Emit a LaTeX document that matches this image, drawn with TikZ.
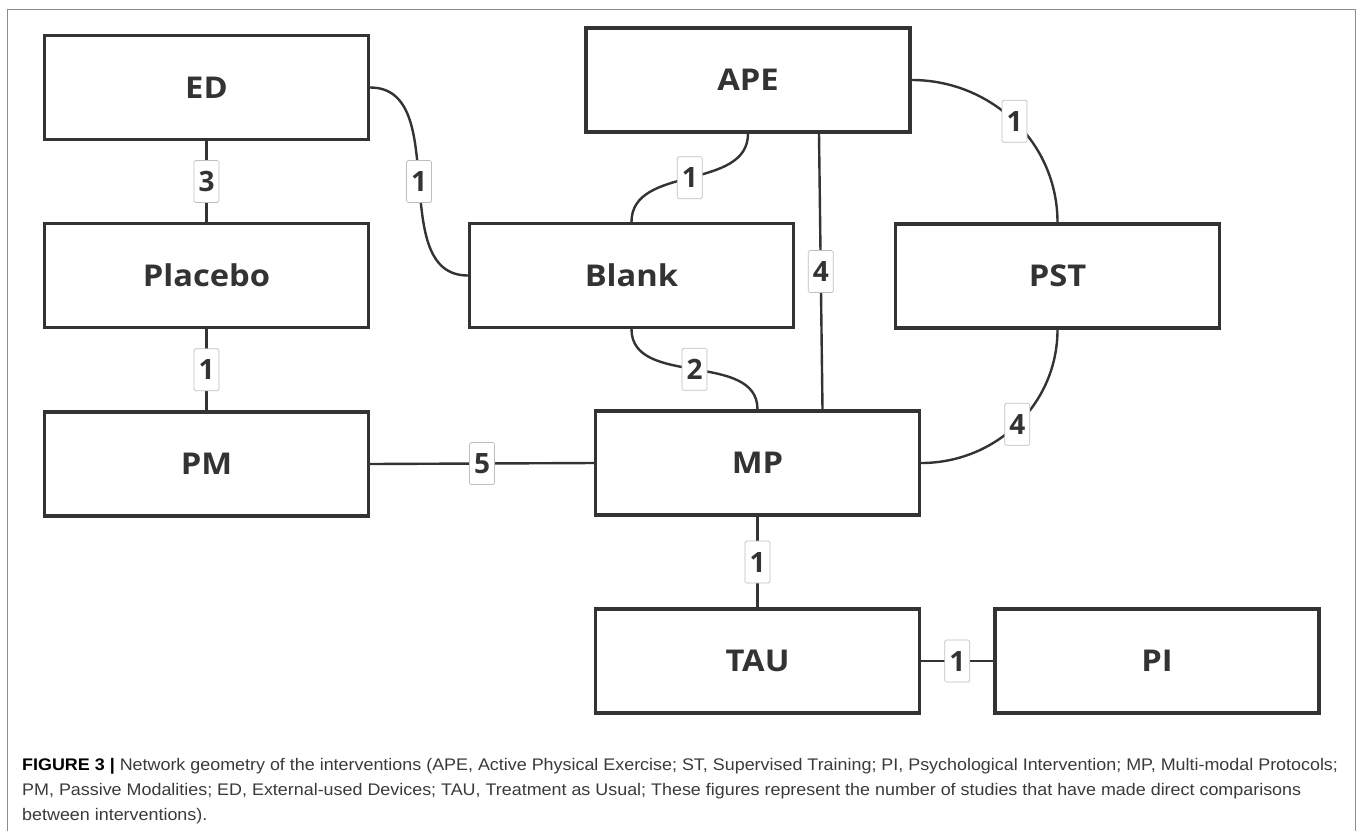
\documentclass[tikz,border=0pt]{standalone}
\usepackage{fontspec}
\newfontfamily\boxfont{Open Sans}[FakeStretch=1.09]
\newfontfamily\numfont{Open Sans}
\newfontfamily\capfont{Liberation Sans}[FakeStretch=1.066]
\definecolor{ink}{HTML}{333333}
\definecolor{capink}{HTML}{3A3A3A}
\begin{document}
\begin{tikzpicture}[x=1pt,y=1pt,
  box/.style={draw=ink,line width=3.3pt,fill=white,minimum width=324pt,minimum height=104pt,
    inner sep=0pt,font=\boxfont\bfseries\fontsize{30}{33}\selectfont,text=ink},
  link/.style={draw=ink,line width=2.4pt},
  num/.style={draw=black!25,line width=0.7pt,fill=white,rounded corners=1.5pt,inner sep=0pt,
    minimum width=25pt,minimum height=42pt,font=\numfont\bfseries\fontsize{28}{30}\selectfont,text=ink},
  captext/.style={anchor=base west,inner sep=0pt,text=capink,font=\capfont\fontsize{16.8}{20}\selectfont}]
\useasboundingbox (0,0) rectangle (1358,-831);
\draw[black!45,line width=1pt] (7.6,-831) -- (7.6,-9) -- (1355,-9) -- (1355,-831);
% boxes
\node[box] (ED) at (206.5,-87.5) {ED};
\node[box] (Placebo) at (206.5,-275.5) {Placebo};
\node[box] (PM) at (206.5,-464) {PM};
\node[box] (APE) at (748,-80) {APE};
\node[box] (Blank) at (631.5,-275.5) {Blank};
\node[box] (PST) at (1057.5,-276) {PST};
\node[box] (MP) at (757.5,-463) {MP};
\node[box] (TAU) at (757.5,-661) {TAU};
\node[box] (PI) at (1157,-661) {PI};
% connectors
\draw[link] (ED.south) -- node[num]{3} (Placebo.north);
\draw[link] (Placebo.south) -- node[num]{1} (PM.north);
\draw[link] (ED.east) to[out=0,in=180] node[num]{1} (Blank.west);
\draw[link] (APE.south) to[out=-90,in=90] node[num]{1} (Blank.north);
\draw[link] ([xshift=71pt]APE.south) -- node[num]{4} ([xshift=65pt]MP.north);
\draw[link] (Blank.south) to[out=-90,in=90] node[num]{2} (MP.north);
\draw[link] (APE.east) to[out=0,in=90] node[num]{1} (PST.north);
\draw[link] (PST.south) to[out=-90,in=0] node[num]{4} (MP.east);
\draw[link] (PM.east) -- node[num]{5} (MP.west);
\draw[link] (MP.south) -- node[num]{1} (TAU.north);
\draw[link] (TAU.east) -- node[num]{1} (PI.west);
% caption
\node[captext] (cap1) at (22,-770)
  {{\color{black}\bfseries FIGURE 3 |} Network geometry of the interventions (APE, Active Physical Exercise; ST, Supervised Training; PI, Psychological Intervention; MP, Multi-modal Protocols;};
\node[captext] (cap2) at (22,-795)
  {PM, Passive Modalities; ED, External-used Devices; TAU, Treatment as Usual; These figures represent the number of studies that have made direct comparisons};
\node[captext] (cap3) at (22,-820)
  {between interventions).};
\end{tikzpicture}
\end{document}
